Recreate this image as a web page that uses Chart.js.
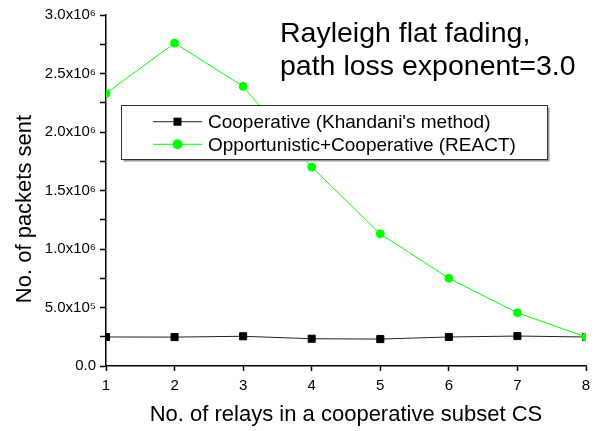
<!DOCTYPE html>
<html>
<head>
<meta charset="utf-8">
<script src="https://cdn.jsdelivr.net/npm/chart.js@4"></script>
<style>
html,body{margin:0;padding:0;background:#fff;}
canvas{display:block;}
</style>
</head>
<body>
<canvas id="c" width="599" height="431"></canvas>
<script>
const relays = [1, 2, 3, 4, 5, 6, 7, 8];
const cooperative = [248000, 247000, 254000, 233000, 230000, 248000, 256000, 248000];
const react = [2330000, 2760000, 2390000, 1700000, 1130000, 750000, 455000, 248000];
const seriesNames = ["Cooperative (Khandani's method)", "Opportunistic+Cooperative (REACT)"];
const yTickLabels = {0: "0.0", 500000: "5.0x10\u2075", 1000000: "1.0x10\u2076", 1500000: "1.5x10\u2076",
  2000000: "2.0x10\u2076", 2500000: "2.5x10\u2076", 3000000: "3.0x10\u2076"};
const titleLines = ["Rayleigh flat fading,", "path loss exponent=3.0"];
const xTitle = "No. of relays in a cooperative subset CS";
const yTitle = "No. of packets sent";

const FONT = "'Liberation Sans', Arial, Helvetica, sans-serif";

const overlay = {
  id: 'overlay',
  afterDatasetsDraw(chart) {
    const ctx = chart.ctx;
    ctx.save();
    ctx.fillStyle = '#000';
    ctx.font = '28.5px ' + FONT;
    ctx.textBaseline = 'alphabetic';
    ctx.textAlign = 'left';
    ctx.fillText(titleLines[0], 280, 42);
    ctx.fillText(titleLines[1], 280, 75);

    ctx.save();
    ctx.translate(25, 209);
    ctx.rotate(-Math.PI / 2);
    ctx.font = '22px ' + FONT;
    ctx.textAlign = 'center';
    ctx.textBaseline = 'middle';
    ctx.fillText(yTitle, 0, 0);
    ctx.restore();

    const bx = 121.5, by = 105.5, bw = 426, bh = 54;
    ctx.fillStyle = '#9a9a9a';
    ctx.fillRect(bx + 2, by + 2, bw, bh);
    ctx.fillStyle = '#fff';
    ctx.fillRect(bx, by, bw, bh);
    ctx.strokeStyle = '#333';
    ctx.lineWidth = 1;
    ctx.strokeRect(bx, by, bw, bh);
    const rows = [121.7, 144.3];
    chart.data.datasets.forEach((ds, i) => {
      const y = rows[i];
      ctx.strokeStyle = ds.borderColor;
      ctx.lineWidth = 1;
      ctx.beginPath();
      ctx.moveTo(153, y);
      ctx.lineTo(202, y);
      ctx.stroke();
      ctx.fillStyle = ds.pointBackgroundColor;
      if (ds.pointStyle === 'rect') {
        ctx.fillRect(177.5 - 4, y - 4, 8, 8);
      } else {
        ctx.beginPath();
        ctx.arc(177.5, y, 5, 0, Math.PI * 2);
        ctx.fill();
      }
      ctx.fillStyle = '#000';
      ctx.font = '19px ' + FONT;
      ctx.textAlign = 'left';
      ctx.textBaseline = 'middle';
      ctx.fillText(ds.label, 208, y + 1);
    });
    ctx.restore();
  }
};

new Chart(document.getElementById('c'), {
  type: 'line',
  data: {
    datasets: [
      {
        label: seriesNames[0],
        data: relays.map((x, i) => ({x: x, y: cooperative[i]})),
        order: 1,
        borderColor: '#222',
        backgroundColor: '#000',
        pointBackgroundColor: '#000',
        pointBorderColor: '#000',
        pointStyle: 'rect',
        pointRadius: 5,
        pointBorderWidth: 1,
        borderWidth: 1,
        tension: 0
      },
      {
        label: seriesNames[1],
        data: relays.map((x, i) => ({x: x, y: react[i]})),
        order: 0,
        borderColor: '#00ff00',
        backgroundColor: '#00ff00',
        pointBackgroundColor: '#00ff00',
        pointBorderColor: '#00ff00',
        pointStyle: 'circle',
        pointRadius: 4,
        pointBorderWidth: 1,
        borderWidth: 1,
        tension: 0
      }
    ]
  },
  options: {
    responsive: false,
    animation: false,
    layout: {padding: {top: 15, right: 13, left: 0, bottom: 0}},
    plugins: {legend: {display: false}, tooltip: {enabled: false}, title: {display: false}},
    scales: {
      x: {
        type: 'linear',
        min: 1, max: 8,
        afterFit(s) { s.height = 65; },
        border: {color: '#000', width: 1.5},
        grid: {drawOnChartArea: false, drawTicks: true, tickLength: 5, color: '#000', tickWidth: 1.5},
        ticks: {stepSize: 1, color: '#000', padding: 6, font: {family: FONT, size: 15},
          callback: v => String(v)},
        title: {display: true, text: xTitle, color: '#000', font: {family: FONT, size: 22}, padding: {bottom: 3, top: 0}}
      },
      y: {
        type: 'linear',
        min: 0, max: 3000000,
        afterFit(s) { s.width = 106; },
        border: {color: '#000', width: 1.5},
        grid: {drawOnChartArea: false, drawTicks: true, tickLength: 6, color: '#000', tickWidth: 1.5},
        ticks: {stepSize: 250000, color: '#000', padding: 4, font: {family: FONT, size: 15},
          autoSkip: false,
          callback: v => (yTickLabels[v] !== undefined ? yTickLabels[v] : '')}
      }
    }
  },
  plugins: [overlay]
});
</script>
</body>
</html>
